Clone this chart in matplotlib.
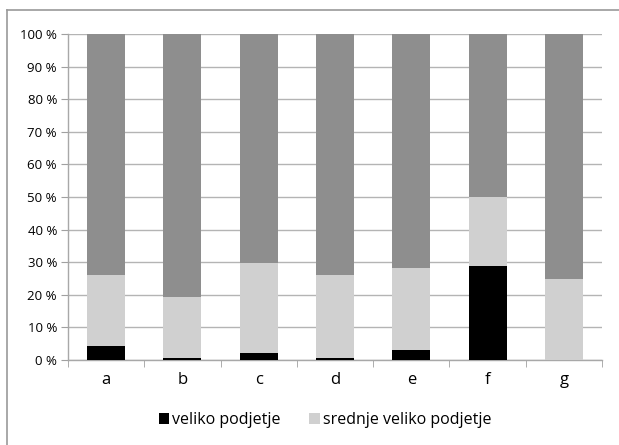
import matplotlib
matplotlib.use("Agg")
import matplotlib.pyplot as plt
from matplotlib.lines import Line2D
import numpy as np

categories = ["a", "b", "c", "d", "e", "f", "g"]
veliko = [4.2, 0.6, 2.2, 0.6, 3.0, 28.8, 0.0]
srednje = [21.8, 18.8, 27.7, 25.4, 25.1, 21.2, 25.0]
ostalo = [100 - v - s for v, s in zip(veliko, srednje)]
yticks = [0, 10, 20, 30, 40, 50, 60, 70, 80, 90, 100]
ytick_labels = [f"{t} %" for t in yticks]

plt.rcParams['font.family'] = ['Open Sans', 'DejaVu Sans']

W, H = 619, 445
fig = plt.figure(figsize=(W / 100, H / 100), dpi=100)
ax = fig.add_axes([68 / W, 1 - 360 / H, (602 - 68) / W, (360 - 34) / H])

x = np.arange(len(categories))
bw = 0.5
c_black = "#000000"
c_light = "#d0d0d0"
c_dark = "#8e8e8e"
b1 = ax.bar(x, veliko, bw, color=c_black, label="veliko podjetje", zorder=3)
b2 = ax.bar(x, srednje, bw, bottom=veliko, color=c_light, label="srednje veliko podjetje", zorder=3)
bottom3 = [v + s for v, s in zip(veliko, srednje)]
ax.bar(x, ostalo, bw, bottom=bottom3, color=c_dark, zorder=3)

ax.set_xlim(-0.5, len(categories) - 0.5)
ax.set_ylim(0, 100)
ax.set_yticks(yticks)
ax.set_yticklabels(ytick_labels, fontsize=9.5)
ax.yaxis.grid(True, color="#b4b4b4", linewidth=1.0, zorder=0)
ax.set_axisbelow(True)

ax.set_xticks(x)
ax.set_xticklabels(categories, fontsize=12)
ax.tick_params(axis="x", which="major", length=0, pad=9)
ax.set_xticks(np.arange(-0.5, len(categories) + 0.5, 1), minor=True)
ax.tick_params(axis="x", which="minor", length=5, color="#a0a0a0", direction="out")
ax.tick_params(axis="y", length=5, color="#a0a0a0", direction="out", pad=3)

for s in ["top", "right"]:
    ax.spines[s].set_visible(False)
for s in ["left", "bottom"]:
    ax.spines[s].set_color("#a8a8a8")
    ax.spines[s].set_linewidth(1.0)

leg = fig.legend(handles=[b1, b2], labels=["veliko podjetje", "srednje veliko podjetje"],
                 loc="center", bbox_to_anchor=(325 / W, 1 - 420 / H), ncol=2,
                 frameon=False, fontsize=11.5, handlelength=0.65, handleheight=0.65,
                 handletextpad=0.2, columnspacing=1.8)

# outer frame (left and top edges)
fig.add_artist(Line2D([7 / W, 7 / W], [0, 1 - 10 / H], transform=fig.transFigure,
                      color="#9a9a9a", linewidth=1.2))
fig.add_artist(Line2D([7 / W, 1], [1 - 10 / H, 1 - 10 / H], transform=fig.transFigure,
                      color="#9a9a9a", linewidth=1.2))

fig.savefig("out.png", dpi=100)
